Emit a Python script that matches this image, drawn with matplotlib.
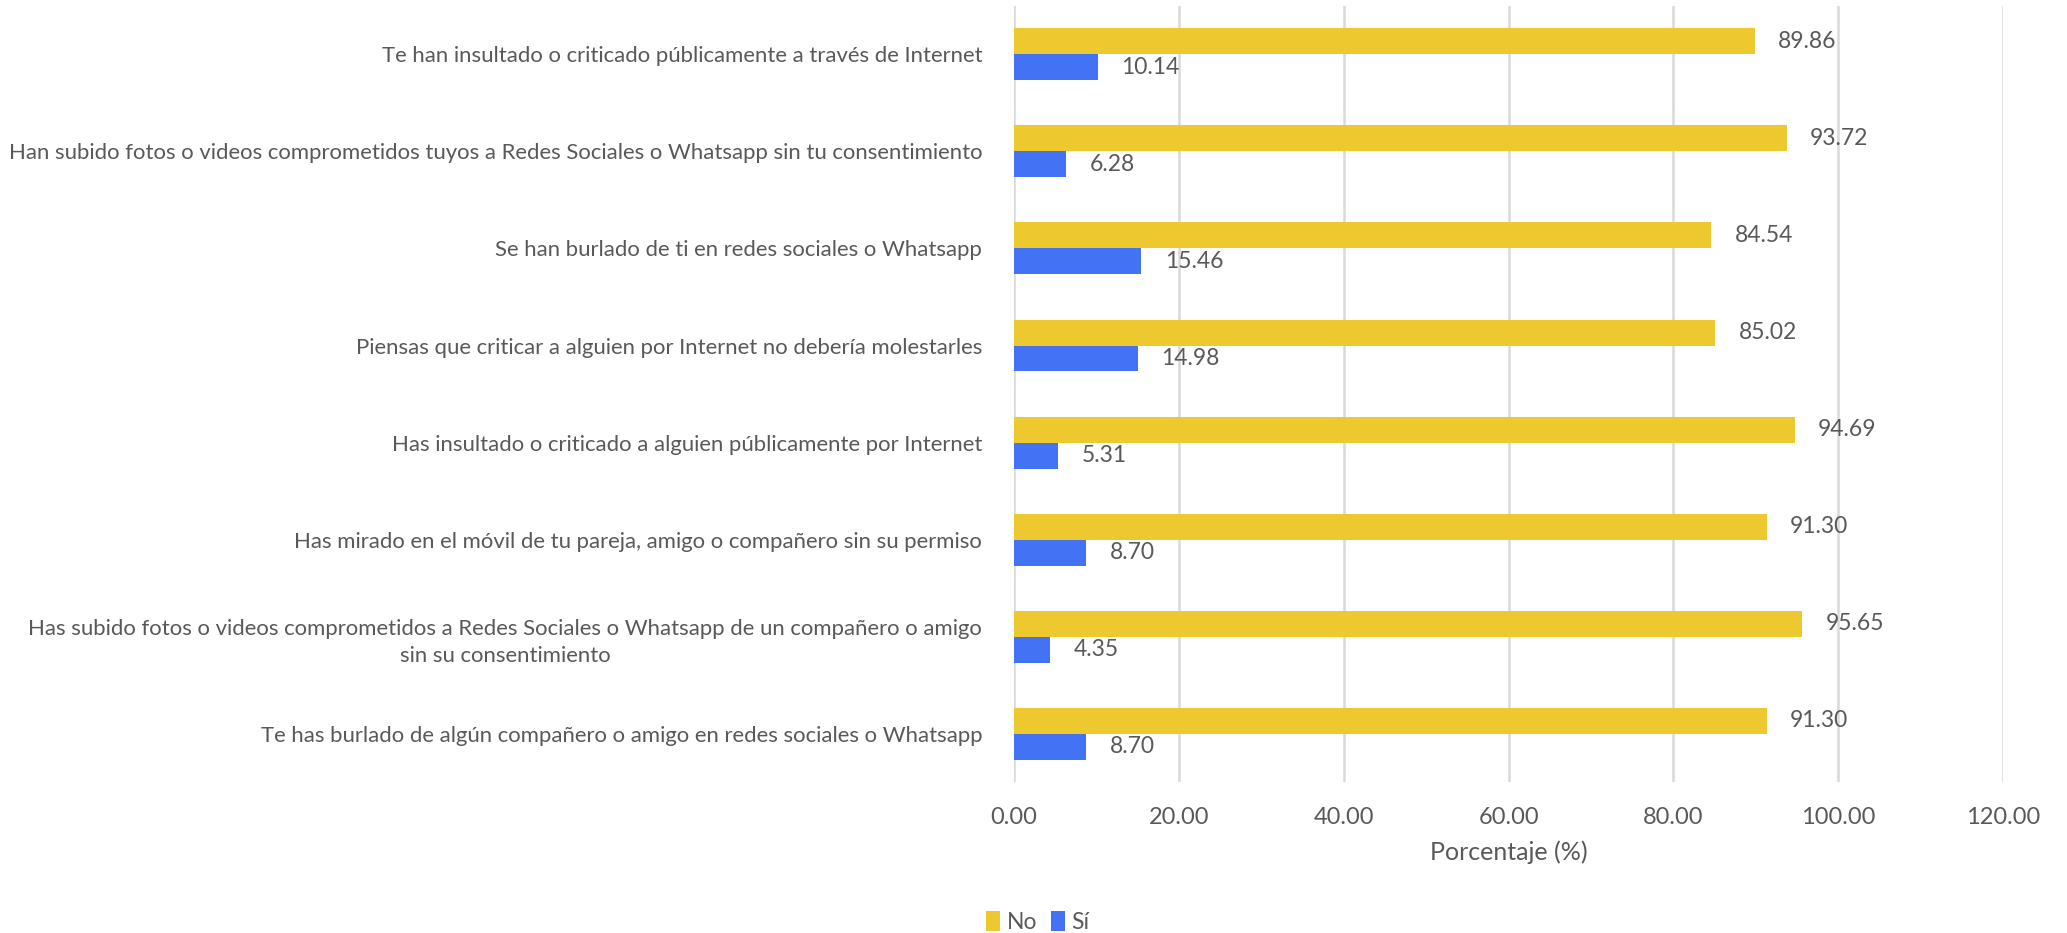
import numpy as np
import matplotlib.pyplot as plt

# Preguntas (de arriba a abajo)
categorias = [
    "Te han insultado o criticado públicamente a través de Internet",
    "Han subido fotos o videos comprometidos tuyos a Redes Sociales o Whatsapp sin tu consentimiento",
    "Se han burlado de ti en redes sociales o Whatsapp",
    "Piensas que criticar a alguien por Internet no debería molestarles",
    "Has insultado o criticado a alguien públicamente por Internet",
    "Has mirado en el móvil de tu pareja, amigo o compañero sin su permiso",
    "Has subido fotos o videos comprometidos a Redes Sociales o Whatsapp de un compañero o amigo\nsin su consentimiento",
    "Te has burlado de algún compañero o amigo en redes sociales o Whatsapp",
]
valores_no = [89.86, 93.72, 84.54, 85.02, 94.69, 91.30, 95.65, 91.30]
valores_si = [10.14, 6.28, 15.46, 14.98, 5.31, 8.70, 4.35, 8.70]
ticks_x = [0, 20, 40, 60, 80, 100, 120]

color_no = "#EEC82F"
color_si = "#4472F4"
gris = "#595959"

plt.rcParams['font.family'] = ['Lato', 'DejaVu Sans']

fig = plt.figure(figsize=(20.67, 9.33), dpi=100)
ax = fig.add_axes([0.4906, 0.1618, 0.4785, 0.8318])

y = np.arange(len(categorias))
h = 0.268
b_no = ax.barh(y - h / 2, valores_no, height=h, color=color_no, label="No", zorder=3)
b_si = ax.barh(y + h / 2, valores_si, height=h, color=color_si, label="Sí", zorder=3)

for barras in (b_no, b_si):
    ax.bar_label(barras, fmt="%.2f", padding=17, fontsize=16.5, color=gris)

ax.set_xlim(0, 120)
ax.set_ylim(len(categorias) - 0.5, -0.5)
ax.set_xticks(ticks_x)
ax.set_xticklabels([f"{t:.2f}" for t in ticks_x], fontsize=17, color=gris)
ax.set_yticks(y)
ax.set_yticklabels(categorias, fontsize=15.9, color=gris)
for lab in ax.get_yticklabels():
    lab.set_multialignment("center")
    lab.set_linespacing(1.45)
ax.tick_params(axis="both", length=0)
ax.tick_params(axis="y", pad=23)
ax.tick_params(axis="x", pad=18)
ax.set_xlabel("Porcentaje (%)", fontsize=18, color=gris, labelpad=9)

ax.grid(axis="x", color="#D9D9D9", linewidth=1.8, zorder=0)
for s in ax.spines.values():
    s.set_visible(False)

fig.legend(handles=[b_no, b_si], loc="lower center", bbox_to_anchor=(0.502, -0.022),
           ncol=2, frameon=False, fontsize=16.5, labelcolor=gris,
           handlelength=0.6, handleheight=0.9, handletextpad=0.3, columnspacing=0.6)

fig.savefig("out.png", dpi=100)
